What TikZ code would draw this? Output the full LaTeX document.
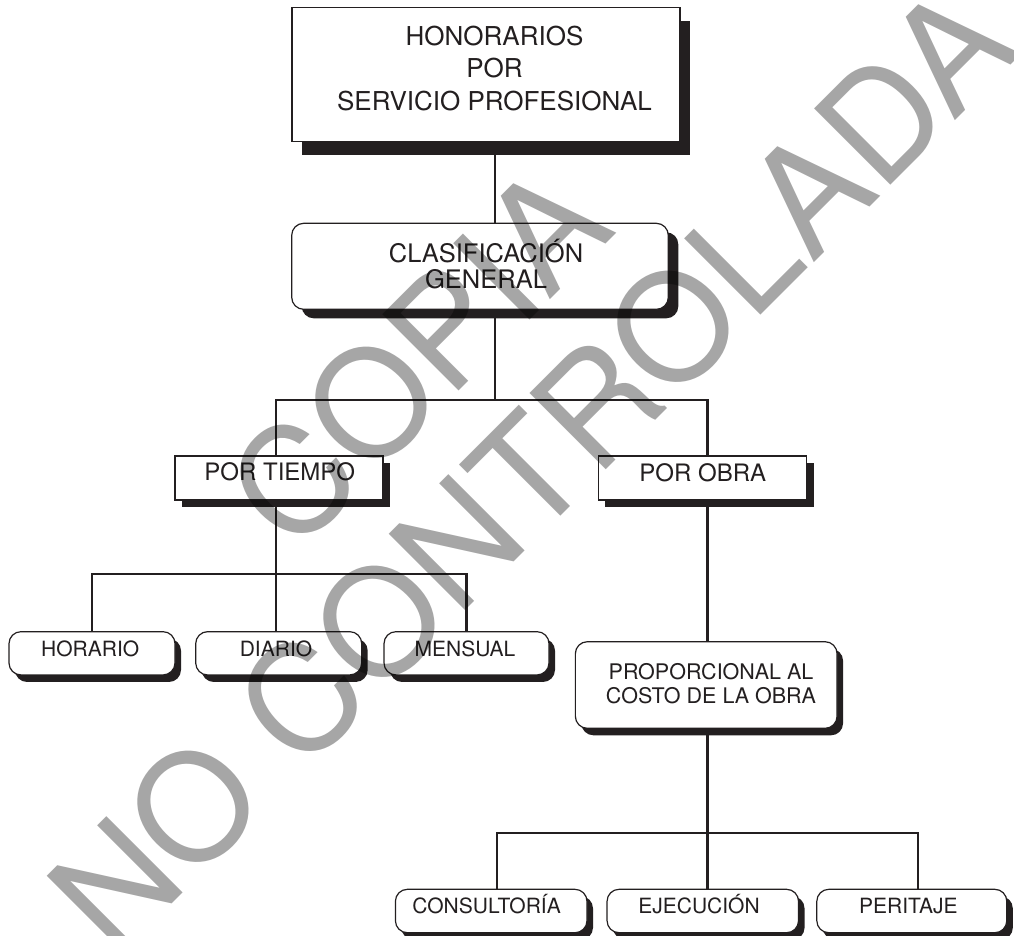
\documentclass[tikz,border=0pt]{standalone}
\usepackage{fontspec}
\setmainfont{TeX Gyre Heros}
\usepackage{xcolor}
\usetikzlibrary{shadows}
\definecolor{inkblack}{RGB}{35,31,32}
\definecolor{stampgray}{RGB}{166,166,166}

\begin{document}
\begin{tikzpicture}[x=1pt, y=-1pt,
    sqbox/.style={draw=inkblack, line width=1.2pt, fill=white, inner sep=0pt},
    rdbox/.style={sqbox, rounded corners=12pt},
    dropblk/.style 2 args={drop shadow={shadow xshift=#1pt, shadow yshift=-#2pt, fill=inkblack, opacity=1}},
    lab/.style={text=inkblack, inner sep=0pt, align=center},
    capline/.style={text height=0.72em, text depth=0pt},
    conn/.style={draw=inkblack, line width=2.2pt},
    stamp/.style={text=stampgray, font=\fontsize{148}{160}\selectfont, align=center, inner sep=0pt}]
    \useasboundingbox (0,0) rectangle (1014,935);
    \clip (0,0) rectangle (1014,935);

    % Top box
    \node[sqbox, minimum width=388pt, minimum height=134pt, dropblk={10}{13}] (honor) at (486,74.5) {};
    \node[lab, font=\fontsize{26}{32.5}\selectfont] (honor-t) at (494.5,68.3) {HONORARIOS\\POR\\SERVICIO PROFESIONAL};

    % General classification
    \node[rdbox, minimum width=376.6pt, minimum height=86pt, dropblk={10}{9}] (clas) at (480,266.3) {};
    \node[lab, font=\fontsize{25.5}{25.6}\selectfont] (clas-t) at (486,264) {CLASIFICACIÓN\\GENERAL};

    % Two branches
    \node[sqbox, minimum width=208pt, minimum height=44pt, dropblk={7}{7}] (tiempo) at (279,478) {};
    \node[lab, capline, font=\fontsize{24}{28}\selectfont] (tiempo-t) at (279.8,477) {POR TIEMPO};
    \node[sqbox, minimum width=208.4pt, minimum height=44pt, dropblk={7}{7}] (obra) at (702.5,478) {};
    \node[lab, capline, font=\fontsize{24}{28}\selectfont] (obra-t) at (702.8,478.3) {POR OBRA};

    % By time
    \node[rdbox, minimum width=166pt, minimum height=43.3pt, dropblk={6}{7}] (horario) at (92,653.3) {};
    \node[lab, capline, font=\fontsize{21}{24}\selectfont] (horario-t) at (90.2,652.5) {HORARIO};
    \node[rdbox, minimum width=166pt, minimum height=43.3pt, dropblk={6}{7}] (diario) at (278.7,653.3) {};
    \node[lab, capline, font=\fontsize{21}{24}\selectfont] (diario-t) at (276,652.5) {DIARIO};
    \node[rdbox, minimum width=165pt, minimum height=43.3pt, dropblk={6}{7}] (mensual) at (466.5,653.3) {};
    \node[lab, capline, font=\fontsize{21}{24}\selectfont] (mensual-t) at (465,652.5) {MENSUAL};

    % By work
    \node[rdbox, minimum width=261.7pt, minimum height=86.6pt, dropblk={6}{7}] (prop) at (706.2,685) {};
    \node[lab, font=\fontsize{21.5}{24}\selectfont] (prop-t) at (711,683.7) {PROPORCIONAL AL\\COSTO DE LA OBRA};
    \node[rdbox, minimum width=191.6pt, minimum height=43.4pt, dropblk={6}{7}] (cons) at (491.2,911) {};
    \node[lab, capline, font=\fontsize{21}{24}\selectfont] (cons-t) at (486.6,910) {CONSULTORÍA};
    \node[rdbox, minimum width=191.5pt, minimum height=43.4pt, dropblk={6}{7}] (ejec) at (702.8,911) {};
    \node[lab, capline, font=\fontsize{21}{24}\selectfont] (ejec-t) at (699,910) {EJECUCIÓN};
    \node[rdbox, minimum width=190pt, minimum height=43.4pt, dropblk={6}{7}] (peri) at (911.8,911) {};
    \node[lab, capline, font=\fontsize{21}{24}\selectfont] (peri-t) at (908.3,910) {PERITAJE};

    % Connectors
    \coordinate (split1) at (495,400);
    \coordinate (split2) at (276,574.3);
    \coordinate (split3) at (707.5,833);
    \coordinate (drop-l) at (497,833);
    \coordinate (drop-r) at (918,833);
    \draw[conn] (honor.south -| split1) -- (clas.north -| split1);
    \draw[conn] (clas.south -| split1) -- (split1);
    \draw[conn] (tiempo.north -| split2) |- (split1) -| (obra.north -| split3);
    \draw[conn] (tiempo.south -| split2) -- (split2);
    \draw[conn] (horario.north) |- (split2) -| (mensual.north);
    \draw[conn] (split2) -- (diario.north -| split2);
    \draw[conn] (obra.south -| split3) -- (prop.north -| split3);
    \draw[conn] (prop.south -| split3) -- (split3);
    \draw[conn] (cons.north -| drop-l) |- (split3) -| (peri.north -| drop-r);
    \draw[conn] (split3) -- (ejec.north -| split3);

    % Watermark
    \begin{scope}[blend mode=multiply]
        \node[stamp, rotate=45] (stamp) at (474.5,412.3) {COPIA\\NO CONTROLADA};
    \end{scope}
\end{tikzpicture}
\end{document}
